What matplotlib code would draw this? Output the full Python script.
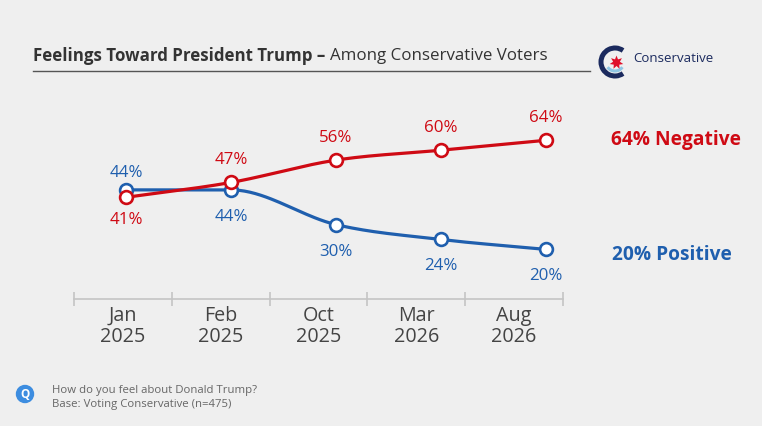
import numpy as np
import matplotlib
matplotlib.use("Agg")
import matplotlib.pyplot as plt
from matplotlib.patches import Arc, Circle

plt.rcParams['font.family'] = ['Open Sans', 'DejaVu Sans']

months = ['Jan\n2025', 'Feb\n2025', 'Oct\n2025', 'Mar\n2026', 'Aug\n2026']
negative = [41, 47, 56, 60, 64]
positive = [44, 44, 30, 24, 20]

RED = '#cf0a14'
BLUE = '#1f5fae'
BG = '#efefef'
W, H = 762, 426


def monotone(x, y, n=40):
    # monotone cubic hermite, only for drawing the curve between points
    x = np.asarray(x, float)
    y = np.asarray(y, float)
    h = np.diff(x)
    d = np.diff(y) / h
    m = np.zeros_like(y)
    m[0], m[-1] = d[0], d[-1]
    for i in range(1, len(y) - 1):
        if d[i - 1] * d[i] <= 0:
            m[i] = 0
        else:
            m[i] = (d[i - 1] + d[i]) / 2
    for i in range(len(d)):
        if d[i] == 0:
            m[i] = m[i + 1] = 0
            continue
        a, b = m[i] / d[i], m[i + 1] / d[i]
        s = a * a + b * b
        if s > 9:
            t = 3 / np.sqrt(s)
            m[i], m[i + 1] = t * a * d[i], t * b * d[i]
    xs, ys = [], []
    for i in range(len(d)):
        t = np.linspace(0, 1, n)
        h00 = 2 * t**3 - 3 * t**2 + 1
        h10 = t**3 - 2 * t**2 + t
        h01 = -2 * t**3 + 3 * t**2
        h11 = t**3 - t**2
        xs.append(x[i] + t * h[i])
        ys.append(h00 * y[i] + h10 * h[i] * m[i] + h01 * y[i + 1] + h11 * h[i] * m[i + 1])
    return np.concatenate(xs), np.concatenate(ys)


fig = plt.figure(figsize=(W / 100, H / 100), dpi=100)
fig.patch.set_facecolor(BG)

def fx(px):
    return px / W

def fy(py):
    return 1 - py / H

# data axes: x=0..4 at px 126..546, y=0 at px 299
ax = fig.add_axes([fx(73.5), fy(299), (598.5 - 73.5) / W, (299 - 100) / H])
ax.set_xlim(-0.5, 4.5)
ax.set_ylim(0, (299 - 100) / 2.48)
ax.axis('off')

xi = np.arange(len(months))
for vals, col in [(positive, BLUE), (negative, RED)]:
    sx, sy = monotone(xi, vals)
    ax.plot(sx, sy, color=col, lw=2.3, solid_capstyle='round', zorder=2)
    ax.plot(xi, vals, 'o', ms=9.2, mfc='white', mec=col, mew=1.9, zorder=3)

for i in range(len(months)):
    n, p = negative[i], positive[i]
    red_up = n >= p
    ax.annotate(f'{n}%', (i, n), xytext=(0, 22 if red_up else -23), textcoords='offset pixels',
                ha='center', va='center', color=RED, fontsize=12.2)
    ax.annotate(f'{p}%', (i, p), xytext=(0, -27 if red_up else 17), textcoords='offset pixels',
                ha='center', va='center', color=BLUE, fontsize=12.2)

# category axis
cx = fig.add_axes([fx(74), fy(299), (563 - 74) / W, 0.0001])
cx.set_facecolor('none')
cx.set_xlim(0, len(months))
for s in ['top', 'left', 'right']:
    cx.spines[s].set_visible(False)
cx.spines['bottom'].set_color('#c4c4c4')
cx.spines['bottom'].set_linewidth(1.2)
cx.set_yticks([])
cx.set_xticks(np.arange(len(months)) + 0.5)
cx.set_xticklabels(months, fontsize=14.2, color='#444444', linespacing=1.08)
cx.set_xticks(np.arange(len(months) + 1), minor=True)
cx.tick_params(axis='x', which='major', length=0, pad=4.8)
cx.tick_params(axis='x', which='minor', length=9.5, direction='inout', color='#c4c4c4', width=1.2)

# end labels
fig.text(fx(611), fy(140), f'{negative[-1]}% Negative', color=RED, fontsize=13.8,
         fontweight='bold', va='center', ha='left')
fig.text(fx(612), fy(255), f'{positive[-1]}% Positive', color=BLUE, fontsize=13.8,
         fontweight='bold', va='center', ha='left')

# title
t1 = fig.text(fx(33), fy(56), 'Feelings Toward President Trump \u2013 ', color='#333333',
              fontsize=12.2, fontweight='bold', va='center', ha='left')
fig.canvas.draw()
bb = t1.get_window_extent()
fig.text(bb.x1 / W, fy(56), 'Among Conservative Voters', color='#333333',
         fontsize=12.2, va='center', ha='left')
fig.add_artist(plt.Line2D([fx(33), fx(590)], [fy(71), fy(71)], color='#555555', lw=1))

# logo
lg = fig.add_axes([fx(597), fy(80), 36 / W, 36 / H])
lg.set_xlim(-18, 18)
lg.set_ylim(-18, 18)
lg.set_aspect('equal')
lg.axis('off')
lg.add_patch(Arc((0, 0), 28, 28, theta1=55, theta2=305, color='#1b2a5e', lw=3.6))
lg.add_patch(Arc((0, 0), 18, 18, theta1=215, theta2=325, color='#8fc6e4', lw=2.2))
lg.plot([0.5], [0.5], marker=(7, 1, 0), ms=10, color='#e0102a', mec='none')
fig.text(fx(633), fy(59), 'Conservative', color='#1b2a5e', fontsize=9.5, va='center', ha='left')

# footer
fig.add_artist(Circle((25 / 100, (H - 394) / 100), 0.085, transform=fig.dpi_scale_trans,
                      color='#3d8de0'))
fig.text(fx(25), fy(394), 'Q', color='white', fontsize=8.5, fontweight='bold', ha='center', va='center')
fig.text(fx(52), fy(391), 'How do you feel about Donald Trump?', color='#666666', fontsize=8.2,
         va='center', ha='left')
fig.text(fx(52), fy(404), 'Base: Voting Conservative (n=475)', color='#666666', fontsize=8.2,
         va='center', ha='left')

fig.savefig('out.png', dpi=100, facecolor=BG)
